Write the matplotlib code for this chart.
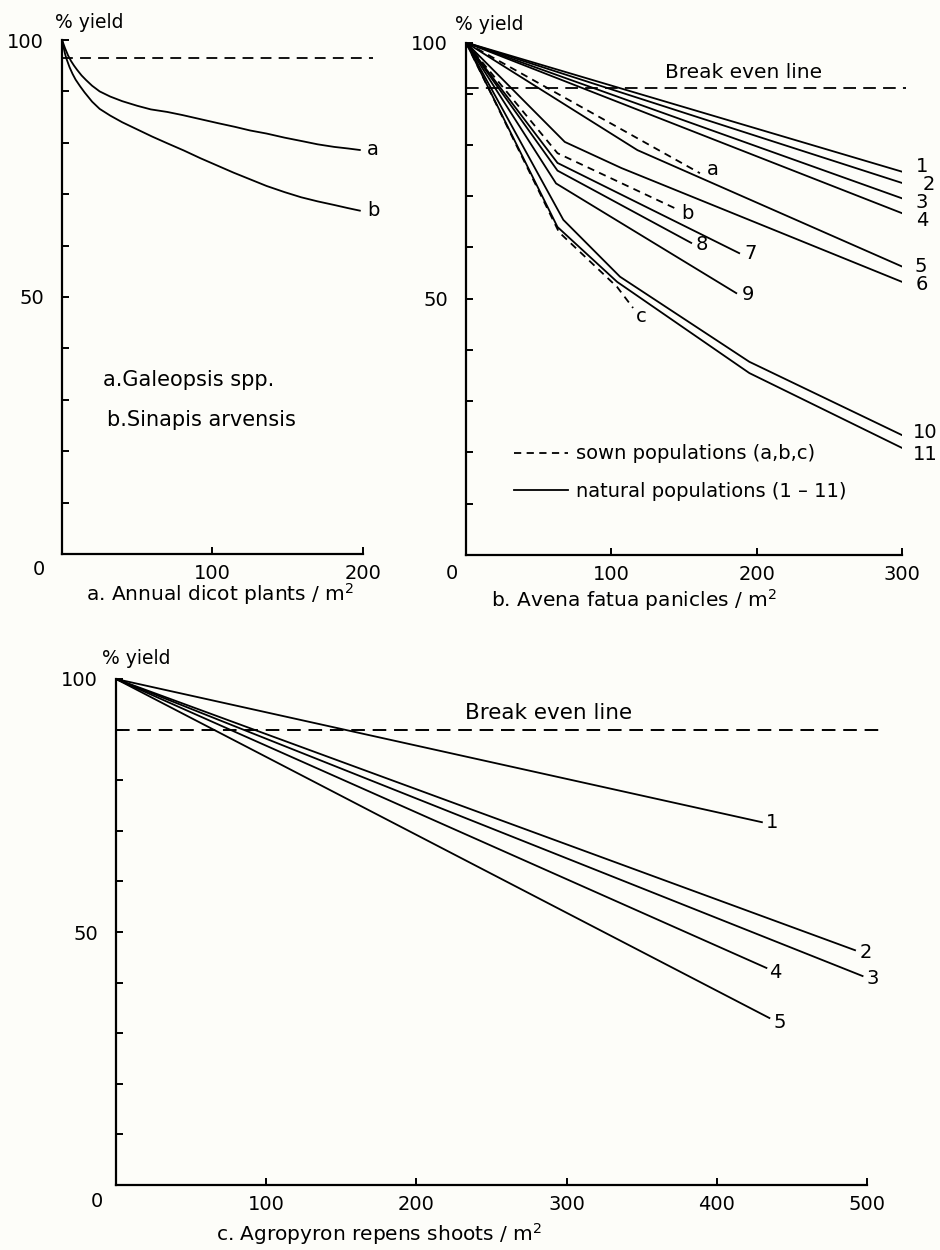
import matplotlib.pyplot as plt

plt.rcParams["font.family"] = ["DejaVu Sans"]

BG = "#fdfdf9"

# ---- panel a: annual dicots (% yield vs plants / m2)
galeopsis_x = [0, 1, 2, 4, 6, 8, 10, 13, 16, 20, 25, 32, 40, 50, 59, 70, 80, 92,
               104, 115, 125, 136, 148, 160, 170, 181, 190, 198]
galeopsis_y = [100, 99.2, 98.4, 97.0, 95.9, 95.0, 94.2, 93.1, 92.2, 91.1, 90.0, 89.0,
               88.1, 87.2, 86.5, 86.0, 85.4, 84.6, 83.8, 83.1, 82.4, 81.8, 81.0, 80.3,
               79.7, 79.2, 78.9, 78.6]
sinapis_x = [0, 1, 2, 3, 5, 7, 9, 12, 15, 20, 25, 32, 40, 50, 60, 70, 81, 92,
             103, 114, 125, 136, 148, 159, 170, 181, 190, 198]
sinapis_y = [100, 98.6, 97.3, 96.3, 94.7, 93.4, 92.3, 91.0, 89.8, 88.0, 86.6, 85.3,
             84.0, 82.6, 81.2, 79.9, 78.5, 77.0, 75.6, 74.2, 72.9, 71.6, 70.4, 69.4,
             68.6, 67.9, 67.3, 66.8]
dicot_break_even = 96.5

# ---- panel b: Avena fatua (sown a-c dashed, natural 1-11 solid)
avena_names = ["1", "2", "3", "4", "5", "6", "7", "8", "9", "10", "11", "a", "b", "c"]
avena_sown = [False] * 11 + [True] * 3
avena_x = [
    [0, 300],
    [0, 300],
    [0, 300],
    [0, 300],
    [0, 118, 300],
    [0, 68, 107, 300],
    [0, 63, 188],
    [0, 63, 155],
    [0, 62, 186],
    [0, 67, 106, 195, 300],
    [0, 63, 104, 195, 300],
    [0, 161],
    [0, 63, 145],
    [0, 64, 104, 115],
]
avena_y = [
    [100, 74.8],
    [100, 72.6],
    [100, 69.6],
    [100, 66.7],
    [100, 79.0, 56.3],
    [100, 80.6, 75.5, 53.3],
    [100, 76.5, 58.9],
    [100, 75.0, 60.9],
    [100, 72.5, 51.1],
    [100, 65.4, 54.3, 37.7, 23.4],
    [100, 64.0, 53.3, 35.5, 20.9],
    [100, 74.5],
    [100, 78.4, 67.5],
    [100, 63.0, 52.3, 48.2],
]
avena_break_even = 91.2

# ---- panel c: Agropyron repens
agropyron_names = ["1", "2", "3", "4", "5"]
agropyron_x = [[0, 430], [0, 492], [0, 497], [0, 433], [0, 435]]
agropyron_y = [[100, 71.7], [100, 46.4], [100, 41.3], [100, 42.9], [100, 33.0]]
agropyron_break_even = 90

# label offsets (points) from the line ends
avena_offsets = {
    "1": (10, 4), "2": (15, -1), "3": (10, -3), "4": (10, -5), "5": (9, 0),
    "6": (10, -2), "7": (4, 0), "8": (3, -1), "9": (4, -1), "10": (8, 2),
    "11": (8, -5), "a": (5, 3), "b": (3, -3), "c": (2, -6),
}
agropyron_offsets = {"1": (3, 0), "2": (3, -2), "3": (3, -2), "4": (2, -3), "5": (3, -3)}

LW = 1.3
FS = 14


def style_axes(ax, xmax, xticks, zero_off, yield_off):
    ax.set_facecolor(BG)
    for side in ("top", "right"):
        ax.spines[side].set_visible(False)
    for side in ("left", "bottom"):
        ax.spines[side].set_linewidth(1.6)
    ax.set_xlim(0, xmax)
    ax.set_ylim(0, 100)
    ax.set_yticks(range(10, 101, 10))
    ax.set_yticklabels(["50" if v == 50 else "100" if v == 100 else "" for v in range(10, 101, 10)])
    ax.set_xticks(xticks)
    ax.set_xticklabels([str(v) for v in xticks])
    ax.tick_params(direction="in", length=5, width=1.4, labelsize=FS)
    ax.tick_params(axis="y", pad=13)
    ax.tick_params(axis="x", pad=7)
    ax.annotate("0", (0, 0), xytext=zero_off, textcoords="offset points",
                fontsize=FS, ha="center", va="center", annotation_clip=False)
    ax.annotate("% yield", (0, 100), xytext=yield_off, textcoords="offset points",
                fontsize=13.5, ha="left", va="bottom", annotation_clip=False)


fig = plt.figure(figsize=(9.4, 12.5), dpi=100, facecolor=BG)

# panel a
ax_a = fig.add_axes([0.066, 0.5568, 0.320, 0.4112])
style_axes(ax_a, 200, [100, 200], (-17, -11), (-5, 6))
ax_a.plot(galeopsis_x, galeopsis_y, color="black", lw=LW)
ax_a.plot(sinapis_x, sinapis_y, color="black", lw=LW)
ax_a.plot([0, 207], [dicot_break_even] * 2, color="black", lw=1.3,
          dashes=(6, 4), clip_on=False)
ax_a.annotate("a", (galeopsis_x[-1], galeopsis_y[-1]), xytext=(5, 0),
              textcoords="offset points", fontsize=FS, va="center")
ax_a.annotate("b", (sinapis_x[-1], sinapis_y[-1]), xytext=(5, 0),
              textcoords="offset points", fontsize=FS, va="center")
ax_a.text(27, 33.9, "a.Galeopsis spp.", fontsize=15, va="center")
ax_a.text(30, 26, "b.Sinapis arvensis", fontsize=15, va="center")
ax_a.set_xlabel("a. Annual dicot plants / m$^2$", fontsize=14.5)
ax_a.xaxis.set_label_coords(0.525, -0.052)

# panel b
ax_b = fig.add_axes([0.4957, 0.556, 0.4638, 0.410])
style_axes(ax_b, 300, [100, 200, 300], (-10, -13), (-8, 6))
sown_handle = natural_handle = None
for name, xs, ys, sown in zip(avena_names, avena_x, avena_y, avena_sown):
    if sown:
        (ln,) = ax_b.plot(xs, ys, color="black", lw=LW, dashes=(4, 3))
        sown_handle = sown_handle or ln
    else:
        (ln,) = ax_b.plot(xs, ys, color="black", lw=LW)
        natural_handle = natural_handle or ln
    ax_b.annotate(name, (xs[-1], ys[-1]), xytext=avena_offsets[name],
                  textcoords="offset points", fontsize=FS, va="center",
                  annotation_clip=False)
ax_b.plot([0, 303], [avena_break_even] * 2, color="black", lw=1.3,
          dashes=(7, 4), clip_on=False)
ax_b.text(191, 94.2, "Break even line", fontsize=14.5, ha="center", va="center")
ax_b.legend([sown_handle, natural_handle],
            ["sown populations (a,b,c)", "natural populations (1 \u2013 11)"],
            loc="upper left", bbox_to_anchor=(0.07, 0.25), frameon=False,
            fontsize=14, handlelength=2.8, handletextpad=0.4, labelspacing=0.95)
ax_b.set_xlabel("b. Avena fatua panicles / m$^2$", fontsize=14.5)
ax_b.xaxis.set_label_coords(0.385, -0.062)

# panel c
ax_c = fig.add_axes([0.1234, 0.052, 0.799, 0.4048])
style_axes(ax_c, 500, [100, 200, 300, 400, 500], (-14, -12), (-10, 8))
for name, xs, ys in zip(agropyron_names, agropyron_x, agropyron_y):
    ax_c.plot(xs, ys, color="black", lw=LW)
    ax_c.annotate(name, (xs[-1], ys[-1]), xytext=agropyron_offsets[name],
                  textcoords="offset points", fontsize=FS, va="center")
ax_c.plot([0, 510], [agropyron_break_even] * 2, color="black", lw=1.4,
          dashes=(7, 4), clip_on=False)
ax_c.text(288, 93.3, "Break even line", fontsize=15.5, ha="center", va="center")
ax_c.set_xlabel("c. Agropyron repens shoots / m$^2$", fontsize=14.5)
ax_c.xaxis.set_label_coords(0.35, -0.072)

fig.savefig("out.png", dpi=100, facecolor=BG)
